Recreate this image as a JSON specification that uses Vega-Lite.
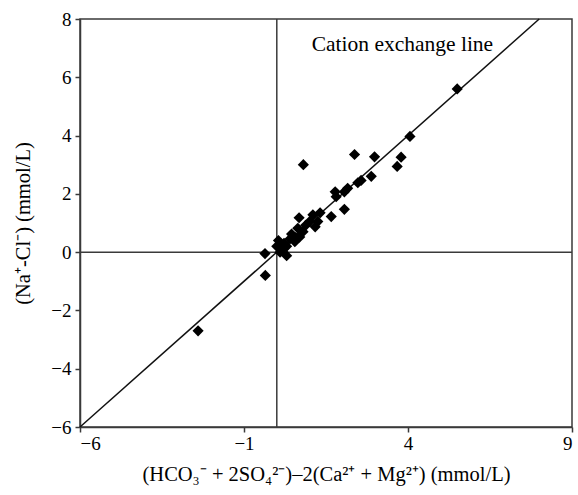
{
  "$schema": "https://vega.github.io/schema/vega-lite/v6.json",
  "width": 492,
  "height": 408,
  "autosize": "none",
  "padding": {"left": 80, "top": 19, "right": 6, "bottom": 68},
  "background": "white",
  "config": {
    "font": "Liberation Serif",
    "view": {"stroke": "#3a3a3a", "strokeWidth": 1.5},
    "axis": {
      "grid": false,
      "domainColor": "#3a3a3a",
      "domainWidth": 1.5,
      "tickColor": "#3a3a3a",
      "tickWidth": 1.5,
      "tickSize": 5,
      "labelFont": "Liberation Serif",
      "labelFontSize": 19,
      "labelColor": "#000",
      "titleFont": "Liberation Serif",
      "titleFontSize": 20.5,
      "titleFontWeight": "normal",
      "titleColor": "#000"
    }
  },
  "layer": [
    {
      "data": {"values": [{}]},
      "mark": {"type": "rule", "color": "#3a3a3a", "strokeWidth": 1.5},
      "encoding": {
        "x": {"datum": 0, "type": "quantitative", "scale": {"domain": [-6, 9], "nice": false, "zero": false}}
      }
    },
    {
      "data": {"values": [{}]},
      "mark": {"type": "rule", "color": "#3a3a3a", "strokeWidth": 1.5},
      "encoding": {
        "y": {"datum": 0, "type": "quantitative", "scale": {"domain": [-6, 8], "nice": false, "zero": false}}
      }
    },
    {
      "data": {"values": [{"x": -6, "y": -6}, {"x": 8, "y": 8}]},
      "mark": {"type": "line", "color": "#111", "strokeWidth": 1.5},
      "encoding": {
        "x": {"field": "x", "type": "quantitative"},
        "y": {"field": "y", "type": "quantitative"}
      }
    },
    {
      "data": {
        "values": [
          {"x": -2.4, "y": -2.7},
          {"x": -0.35, "y": -0.8},
          {"x": -0.36, "y": -0.05},
          {"x": 0.0, "y": 0.2},
          {"x": 0.05, "y": 0.4},
          {"x": 0.1, "y": 0.0},
          {"x": 0.18, "y": 0.1},
          {"x": 0.22, "y": 0.3},
          {"x": 0.3, "y": -0.12},
          {"x": 0.3, "y": 0.2},
          {"x": 0.4, "y": 0.45},
          {"x": 0.45, "y": 0.62},
          {"x": 0.55, "y": 0.36},
          {"x": 0.58, "y": 0.5},
          {"x": 0.64, "y": 0.82},
          {"x": 0.7, "y": 0.52},
          {"x": 0.8, "y": 0.7},
          {"x": 0.88, "y": 0.92},
          {"x": 0.68, "y": 1.18},
          {"x": 0.81, "y": 3.0},
          {"x": 1.0, "y": 1.05},
          {"x": 1.1, "y": 1.28},
          {"x": 1.17, "y": 0.87},
          {"x": 1.25, "y": 1.05},
          {"x": 1.32, "y": 1.35},
          {"x": 1.66, "y": 1.22},
          {"x": 1.78, "y": 2.07},
          {"x": 1.81, "y": 1.9},
          {"x": 2.06, "y": 1.47},
          {"x": 2.06, "y": 2.07},
          {"x": 2.16, "y": 2.19},
          {"x": 2.37, "y": 3.35},
          {"x": 2.47, "y": 2.38},
          {"x": 2.57, "y": 2.46},
          {"x": 2.88, "y": 2.6},
          {"x": 2.98, "y": 3.27},
          {"x": 3.67, "y": 2.94},
          {"x": 3.79, "y": 3.26},
          {"x": 4.06, "y": 3.97},
          {"x": 5.5, "y": 5.6}
        ]
      },
      "mark": {"type": "point", "shape": "diamond", "filled": true, "color": "#000", "opacity": 1, "size": 125},
      "encoding": {
        "x": {
          "field": "x",
          "type": "quantitative",
          "axis": {
            "values": [-6, -1, 4, 9],
            "labelPadding": 2,
            "title": "(HCO₃⁻ + 2SO₄²⁻)–2(Ca²⁺ + Mg²⁺) (mmol/L)",
            "titleX": 246,
            "titleY": 53,
            "titleBaseline": "alphabetic"
          }
        },
        "y": {
          "field": "y",
          "type": "quantitative",
          "axis": {
            "values": [-6, -4, -2, 0, 2, 4, 6, 8],
            "labelPadding": 4,
            "title": "(Na⁺-Cl⁻) (mmol/L)",
            "titleX": -57,
            "titleY": 204,
            "titleAngle": -90,
            "titleBaseline": "middle",
            "titleAlign": "center"
          }
        }
      }
    },
    {
      "data": {"values": [{"label": "Cation exchange line"}]},
      "mark": {"type": "text", "font": "Liberation Serif", "fontSize": 21.5, "color": "#000", "align": "center", "baseline": "alphabetic"},
      "encoding": {
        "x": {"datum": 3.83, "type": "quantitative"},
        "y": {"datum": 6.9, "type": "quantitative"},
        "text": {"field": "label"}
      }
    }
  ]
}
